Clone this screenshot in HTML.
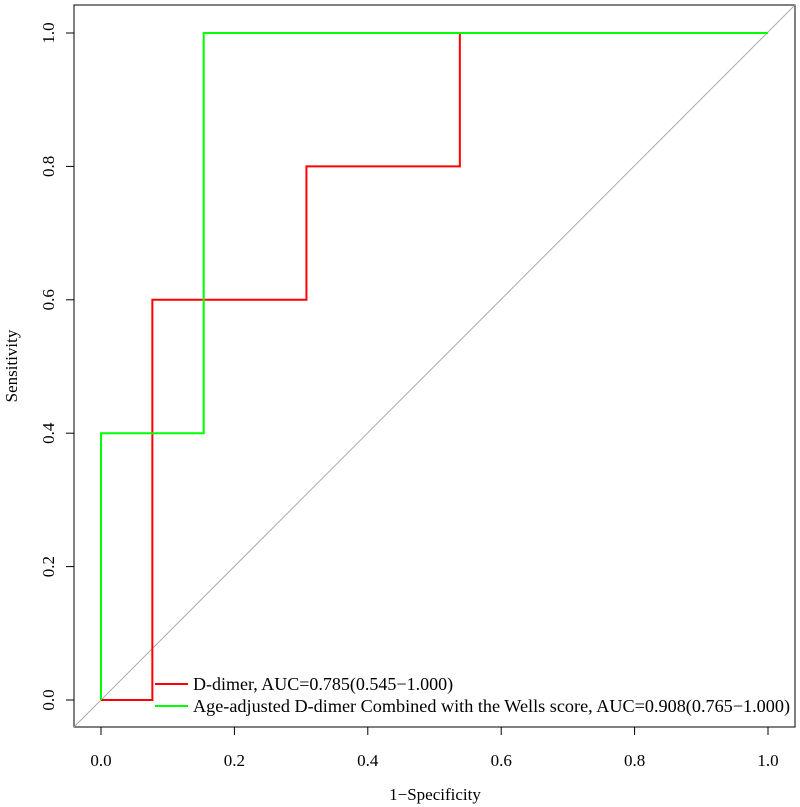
<!DOCTYPE html>
<html><head><meta charset="utf-8"><style>
body{margin:0;background:#fff}
svg{display:block;font-family:"Liberation Serif",serif}
</style></head><body>
<svg id="chart" width="800" height="807">
<rect x="74" y="5" width="721" height="722" fill="none" stroke="#000" stroke-width="1"/>
<g id="axes"></g>
<line x1="74" y1="727" x2="795" y2="5" stroke="#aaa" stroke-width="1"/>
<g id="series"></g>
<text x="435" y="800" font-size="17" text-anchor="middle">1−Specificity</text>
<text transform="translate(17,366) rotate(-90)" font-size="17" text-anchor="middle">Sensitivity</text>
<g>
<line x1="155" y1="684" x2="188" y2="684" stroke="#f00" stroke-width="2"/>
<text x="193" y="690" font-size="18">D-dimer, AUC=0.785(0.545−1.000)</text>
<line x1="155" y1="706" x2="188" y2="706" stroke="#0f0" stroke-width="2"/>
<text x="193" y="712" font-size="18" textLength="597" lengthAdjust="spacingAndGlyphs">Age-adjusted D-dimer Combined with the Wells score, AUC=0.908(0.765−1.000)</text>
</g>
</svg>
<script>
const ticks=[0,0.2,0.4,0.6,0.8,1.0];
const tickLabels=["0.0","0.2","0.4","0.6","0.8","1.0"];
const ddimerFpr=[0,0.077,0.077,0.308,0.308,0.538,0.538,1];
const ddimerTpr=[0,0,0.6,0.6,0.8,0.8,1,1];
const combFpr=[0,0,0.154,0.154,1];
const combTpr=[0,0.4,0.4,1,1];
const NS='http://www.w3.org/2000/svg';
const sx=v=>101+v*667, sy=v=>700-v*667;
const ax=document.getElementById('axes');
ticks.forEach((t,i)=>{
 let l=document.createElementNS(NS,'line');
 l.setAttribute('x1',sx(t));l.setAttribute('x2',sx(t));l.setAttribute('y1',727);l.setAttribute('y2',735);l.setAttribute('stroke','#000');
 
 
 ax.appendChild(l);
 let tx=document.createElementNS(NS,'text');
 tx.setAttribute('x',sx(t));tx.setAttribute('y',766);tx.setAttribute('font-size','17');tx.setAttribute('text-anchor','middle');tx.textContent=tickLabels[i];
 
 
 ax.appendChild(tx);
 let l2=document.createElementNS(NS,'line');
 l2.setAttribute('x1',66);l2.setAttribute('x2',74);l2.setAttribute('y1',sy(t));l2.setAttribute('y2',sy(t));l2.setAttribute('stroke','#000');
 
 
 ax.appendChild(l2);
 let ty=document.createElementNS(NS,'text');
 ty.setAttribute('transform','translate(54,'+sy(t)+') rotate(-90)');ty.setAttribute('font-size','17');ty.setAttribute('text-anchor','middle');ty.textContent=tickLabels[i];
 
 
 ax.appendChild(ty);
});
const sg=document.getElementById('series');
function line(xs,ys,c,name){
 let p=document.createElementNS(NS,'polyline');
 p.setAttribute('points',xs.map((x,i)=>sx(x)+','+sy(ys[i])).join(' '));
 p.setAttribute('fill','none');p.setAttribute('stroke',c);p.setAttribute('stroke-width','2');
 
 
 sg.appendChild(p);
}
line(ddimerFpr,ddimerTpr,'#f00','ddimer-roc-curve');
line(combFpr,combTpr,'#0f0','combined-roc-curve');
</script>
</body></html>
